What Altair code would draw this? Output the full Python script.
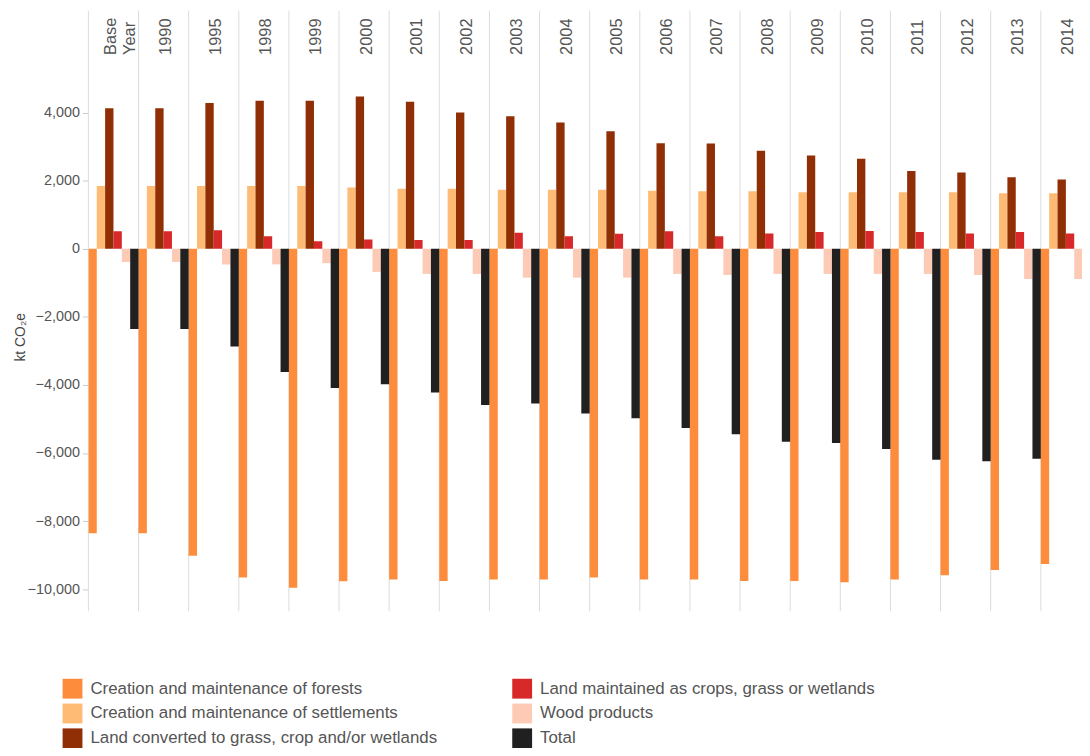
import altair as alt
import pandas as pd

years = ["Base Year", "1990", "1995", "1998", "1999", "2000", "2001", "2002", "2003", "2004",
         "2005", "2006", "2007", "2008", "2009", "2010", "2011", "2012", "2013", "2014"]

categories = [
    "Creation and maintenance of forests",
    "Creation and maintenance of settlements",
    "Land converted to grass, crop and/or wetlands",
    "Land maintained as crops, grass or wetlands",
    "Wood products",
    "Total",
]

forests = [-8360, -8360, -9020, -9660, -9960, -9770, -9720, -9760, -9720, -9720,
           -9660, -9720, -9720, -9760, -9760, -9800, -9720, -9590, -9440, -9260]
settlements = [1840, 1840, 1840, 1840, 1840, 1800, 1760, 1760, 1730, 1730,
               1730, 1700, 1690, 1690, 1660, 1660, 1660, 1660, 1630, 1630]
converted = [4130, 4130, 4280, 4350, 4350, 4470, 4320, 4000, 3890, 3710,
             3450, 3100, 3090, 2880, 2740, 2640, 2280, 2240, 2100, 2030]
maintained = [510, 510, 540, 370, 220, 270, 260, 260, 470, 365,
              440, 510, 370, 450, 490, 520, 490, 450, 490, 450]
wood = [-390, -390, -460, -460, -425, -680, -740, -740, -850, -850,
        -850, -740, -770, -740, -740, -740, -740, -770, -890, -890]
total = [-2360, -2360, -2870, -3620, -4090, -3980, -4220, -4590, -4550, -4840,
         -4980, -5270, -5450, -5670, -5710, -5880, -6200, -6240, -6170, -6040]

colors = ["#FD8D3C", "#FDBB75", "#902F06", "#D7282A", "#FDCAB5", "#202020"]

series = [forests, settlements, converted, maintained, wood, total]
rows = []
for ci, (cat, vals) in enumerate(zip(categories, series)):
    for yi, (y, v) in enumerate(zip(years, vals)):
        rows.append({"year": y, "yi": yi, "category": cat, "ci": ci, "value": v})
df = pd.DataFrame(rows)
years_df = pd.DataFrame({"year": years, "yi": list(range(len(years)))})

FONT = "Liberation Sans"
PLOT_W = 1001          # visible plot width; the last panel runs past the edge as in the original
PLOT_H = 553
STEP = 50.5            # pixel width of one year panel
NCAT = len(categories)

xscale = alt.Scale(domain=[0, PLOT_W / STEP], nice=False, zero=False, padding=0)

label_items = ["['Base','Year']" if y == "Base Year" else "'" + y + "'" for y in years]
label_expr = "[" + ",".join(label_items) + "][floor(datum.value)]"

xaxis = alt.Axis(
    orient="top", values=[i + 0.5 for i in range(len(years))],
    labelAngle=-90, ticks=False, domain=False, grid=False,
    title=None, labelPadding=8, labelFontSize=16.5, labelFont=FONT,
    labelColor="#555555", labelOverlap=False, labelLineHeight=19, labelFlush=False,
    labelOffset={"condition": {"test": "floor(datum.value) == 0", "value": -3}, "value": 2},
    labelExpr=label_expr,
)

rules = alt.Chart(years_df).mark_rule(color="#dcdcdc", strokeWidth=1).encode(
    x=alt.X("yi:Q", scale=xscale, axis=xaxis),
    y=alt.value(-52),
    y2=alt.value(PLOT_H),
)

bars = alt.Chart(df).transform_calculate(
    x0=f"datum.yi + datum.ci / {NCAT}",
    x1=f"datum.yi + (datum.ci + 1) / {NCAT}",
).mark_bar(clip=True).encode(
    x=alt.X("x0:Q", scale=xscale, axis=xaxis),
    x2="x1:Q",
    y=alt.Y(
        "value:Q",
        scale=alt.Scale(domain=[-10650, 5475], nice=False, padding=0),
        axis=alt.Axis(
            values=[-10000, -8000, -6000, -4000, -2000, 0, 2000, 4000],
            format=",.0f", grid=False, domain=False, tickColor="#cccccc", tickSize=6,
            labelPadding=3, labelFontSize=14.5, labelFont=FONT, labelColor="#555555",
            title="kt CO₂e", titleFontSize=14, titleFont=FONT, titleFontWeight="normal",
            titleColor="#444444", titlePadding=0,
        ),
    ),
    y2=alt.datum(0),
    color=alt.Color(
        "category:N",
        scale=alt.Scale(domain=categories, range=colors),
        legend=alt.Legend(
            orient="none", legendX=-26, legendY=621, columns=2, title=None,
            symbolType="square", symbolSize=400, symbolStrokeWidth=0, symbolOpacity=1,
            labelFontSize=17, labelFont=FONT, labelColor="#555555", labelOffset=8,
            rowPadding=5, columnPadding=75, labelLimit=600,
        ),
    ),
)

chart = alt.layer(rules, bars).properties(
    width=PLOT_W,
    height=PLOT_H,
    background="white",
    autosize=alt.AutoSizeParams(type="none"),
    padding={"left": 81, "top": 52, "right": 0, "bottom": 135},
).configure_view(stroke=None)

chart.save("out.html", embed_options={"renderer": "svg", "actions": False})
